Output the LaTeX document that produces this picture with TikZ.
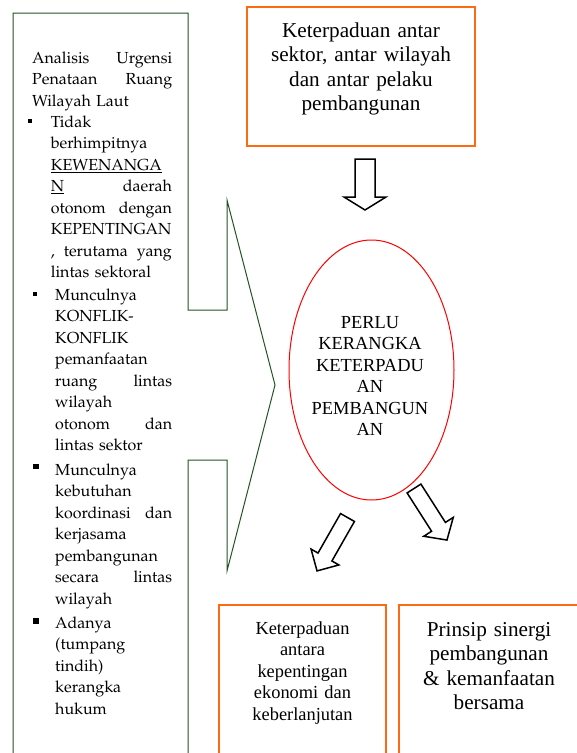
\documentclass[tikz,border=0pt]{standalone}
\usepackage[T1]{fontenc}
\usepackage{fontspec}
\setmainfont{Liberation Serif}
\usetikzlibrary{shapes.geometric}
\newcommand\palfont{\fontencoding{T1}\fontfamily{ppl}\selectfont}
\definecolor{boxorange}{RGB}{252,106,20}
\definecolor{calloutgreen}{RGB}{36,82,36}
\definecolor{ellred}{RGB}{255,0,0}
\tikzset{
  obox/.style={draw=boxorange, line width=2.2pt, inner sep=0pt},
  callout/.style={draw=calloutgreen, line width=1pt, line join=miter},
  lefttext/.style={inner sep=0pt, anchor=base west, font=\palfont\fontsize{16pt}{21.5pt}\selectfont},
  bignote/.style={inner sep=0pt, anchor=base, align=center, font=\fontsize{21.2pt}{24.5pt}\selectfont},
  smallnote/.style={inner sep=0pt, anchor=base, align=center, font=\fontsize{18.4pt}{21.5pt}\selectfont},
  bulletsq/.style={fill=black, inner sep=0pt},
  arrowstroke/.style={draw=black, fill=white, line width=1.5pt, line join=miter},
  pics/blockarrow/.style n args={4}{code={
    \draw[arrowstroke] (-#2,0) -- (-#2,#3) -- (-#4,#3) -- (0,#1) -- (#4,#3) -- (#2,#3) -- (#2,0) -- cycle;
  }},
}
\begin{document}
\begin{tikzpicture}[x=1pt,y=-1pt]
\useasboundingbox (0,0) rectangle (577,753);

% left callout shape
\draw[callout] (13,765) -- (13,13) -- (188,13) -- (188,310) -- (227,310) -- (227,200)
  -- (275,385) -- (227,571) -- (227,460) -- (188,460) -- (188,765);

% left text
\node[lefttext, text width=140pt] (head) at (32,63)
  {Analisis\hfill Urgensi\\Penataan\hfill Ruang\\Wilayah Laut};
\node[bulletsq, minimum size=4pt] (bq1) at (30,121) {};
\node[lefttext, text width=121pt] (item1) at (50.7,127)
  {Tidak\\berhimpitnya\\\underline{KEWENANGA}\\\underline{N}\hfill daerah\\otonom\hfill dengan\\KEPENTINGAN\\,\hfill terutama\hfill yang\\lintas sektoral};
\node[bulletsq, minimum size=4pt] (bq2) at (35,294) {};
\node[lefttext, text width=117pt] (item2) at (55,300)
  {Munculnya\\KONFLIK-\\KONFLIK\\pemanfaatan\\ruang\hfill lintas\\wilayah\\otonom\hfill dan\\lintas sektor};
\node[bulletsq, minimum size=5.5pt] (bq3) at (36,466.5) {};
\node[lefttext, text width=117pt] (item3) at (55,475)
  {Munculnya\\kebutuhan\\koordinasi\hfill dan\\kerjasama\\pembangunan\\secara\hfill lintas\\wilayah};
\node[bulletsq, minimum size=5.5pt] (bq4) at (36,621) {};
\node[lefttext, text width=117pt] (item4) at (55,628)
  {Adanya\\(tumpang\\tindih)\\kerangka\\hukum};

% top box
\node[obox, minimum width=228pt, minimum height=139pt] (topbox) at (361,76.5) {};
\node[bignote, text width=220pt] (toptext) at (361,37)
  {Keterpaduan antar\\sektor, antar wilayah\\dan antar pelaku\\pembangunan};

% down arrow
\pic (arrtop) at (365,159) {blockarrow={51}{10}{38}{21}};

% ellipse
\node[draw=ellred, ellipse, line width=1pt, minimum width=165pt, minimum height=260pt, inner sep=0pt] (core) at (371.5,370) {};
\node[smallnote, text width=160pt] (coretext) at (370,328)
  {PERLU\\KERANGKA\\KETERPADU\\AN\\PEMBANGUN\\AN};

% diagonal arrows
\pic[rotate=-29.7] (arrleft) at (347.5,517.5) {blockarrow={61.5}{8}{45.5}{16}};
\pic[rotate=32.6] (arrright) at (414,488.5) {blockarrow={61.2}{8.2}{45.5}{17.5}};

% bottom boxes
\node[obox, minimum width=167pt, minimum height=160pt] (botleft) at (302.5,685) {};
\node[smallnote, text width=160pt] (botlefttext) at (302.5,634)
  {Keterpaduan\\antara\\kepentingan\\ekonomi dan\\keberlanjutan};
\node[obox, minimum width=180pt, minimum height=160pt] (botright) at (489,685) {};
\node[bignote, text width=175pt] (botrighttext) at (489,636)
  {Prinsip sinergi\\pembangunan\\\& kemanfaatan\\bersama};
\end{tikzpicture}
\end{document}
